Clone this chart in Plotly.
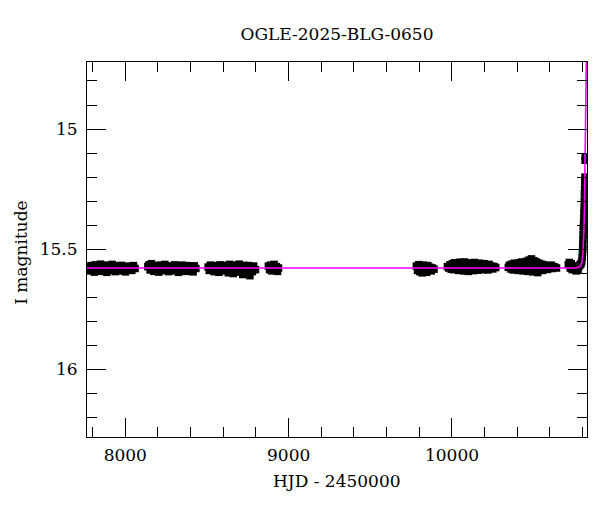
import plotly.graph_objects as go

# ---------------- data ----------------
title_text = "OGLE-2025-BLG-0650"
x_title = "HJD - 2450000"
y_title = "I magnitude"

s1_hjd = [7776, 7784, 7790, 7797, 7803, 7810, 7815, 7822, 7829, 7835, 7842, 7848, 7855, 7861,
          7868, 7874, 7881, 7887, 7894, 7900, 7907, 7913, 7920, 7926, 7933, 7940, 7946, 7953,
          7960, 7967, 7975, 7983, 7992, 8001, 8010, 8020, 8030, 8040, 8050, 8060]
s1_mag = [15.575, 15.59, 15.568, 15.585, 15.572, 15.595, 15.565, 15.58, 15.59, 15.57, 15.583,
          15.562, 15.592, 15.577, 15.568, 15.588, 15.574, 15.596, 15.566, 15.581, 15.571, 15.589,
          15.563, 15.584, 15.578, 15.593, 15.569, 15.582, 15.575, 15.59, 15.567, 15.586, 15.573,
          15.594, 15.57, 15.583, 15.576, 15.588, 15.568, 15.58]

s2_hjd = [8138, 8145, 8152, 8160, 8167, 8175, 8182, 8190, 8197, 8205, 8212, 8220, 8227, 8235,
          8242, 8250, 8257, 8265, 8272, 8280, 8287, 8295, 8302, 8310, 8317, 8325, 8332, 8340,
          8347, 8355, 8362, 8370, 8377, 8385, 8392, 8400, 8407, 8415, 8422, 8432]
s2_mag = [15.572, 15.565, 15.586, 15.56, 15.579, 15.592, 15.568, 15.583, 15.574, 15.595, 15.566,
          15.58, 15.57, 15.589, 15.563, 15.584, 15.576, 15.593, 15.569, 15.581, 15.573, 15.59,
          15.565, 15.585, 15.577, 15.596, 15.57, 15.582, 15.566, 15.588, 15.574, 15.592, 15.568,
          15.583, 15.571, 15.589, 15.575, 15.594, 15.569, 15.58]

s3_hjd = [8507, 8514, 8521, 8529, 8536, 8543, 8551, 8558, 8565, 8573, 8580, 8587, 8595, 8602,
          8609, 8617, 8624, 8631, 8639, 8646, 8653, 8661, 8668, 8675, 8683, 8690, 8697, 8705,
          8712, 8719, 8727, 8734, 8741, 8749, 8756, 8763, 8771, 8778, 8786, 8797]
s3_mag = [15.574, 15.588, 15.566, 15.582, 15.57, 15.593, 15.568, 15.585, 15.577, 15.596, 15.565,
          15.58, 15.572, 15.59, 15.567, 15.586, 15.575, 15.598, 15.563, 15.583, 15.57, 15.601,
          15.566, 15.588, 15.573, 15.595, 15.562, 15.584, 15.578, 15.605, 15.567, 15.59, 15.574,
          15.598, 15.568, 15.61, 15.575, 15.593, 15.57, 15.585]

s4_hjd = [8876, 8883, 8890, 8897, 8904, 8911, 8918, 8925, 8932, 8938]
s4_mag = [15.57, 15.585, 15.566, 15.59, 15.575, 15.563, 15.587, 15.572, 15.592, 15.578]

s5_hjd = [9782, 9789, 9796, 9803, 9810, 9817, 9824, 9831, 9838, 9845, 9852, 9859, 9866, 9873,
          9880, 9890]
s5_mag = [15.57, 15.588, 15.564, 15.593, 15.575, 15.598, 15.566, 15.585, 15.572, 15.596, 15.568,
          15.582, 15.575, 15.59, 15.578, 15.583]

s6_hjd = [9972, 9980, 9987, 9995, 10002, 10010, 10017, 10025, 10032, 10040, 10047, 10055, 10062,
          10070, 10077, 10085, 10092, 10100, 10107, 10115, 10122, 10130, 10137, 10145, 10152,
          10160, 10167, 10175, 10182, 10190, 10197, 10205, 10212, 10220, 10227, 10235, 10242,
          10250, 10257, 10268]
s6_mag = [15.572, 15.578, 15.565, 15.583, 15.56, 15.585, 15.556, 15.579, 15.567, 15.588, 15.554,
          15.575, 15.562, 15.59, 15.553, 15.58, 15.566, 15.592, 15.557, 15.576, 15.563, 15.589,
          15.555, 15.574, 15.561, 15.587, 15.558, 15.578, 15.566, 15.585, 15.56, 15.573, 15.568,
          15.586, 15.563, 15.577, 15.57, 15.582, 15.572, 15.576]

s7_hjd = [10345, 10352, 10360, 10367, 10375, 10382, 10390, 10397, 10405, 10412, 10420, 10427,
          10435, 10442, 10450, 10457, 10465, 10472, 10480, 10487, 10495, 10502, 10510, 10517,
          10525, 10532, 10540, 10547, 10555, 10562, 10570, 10577, 10585, 10592, 10600, 10607,
          10615, 10622, 10630, 10640]
s7_mag = [15.575, 15.566, 15.582, 15.562, 15.586, 15.558, 15.579, 15.563, 15.588, 15.556, 15.581,
          15.553, 15.59, 15.558, 15.584, 15.55, 15.592, 15.545, 15.578, 15.54, 15.594, 15.548,
          15.585, 15.553, 15.597, 15.558, 15.58, 15.562, 15.588, 15.565, 15.578, 15.568, 15.584,
          15.57, 15.576, 15.566, 15.58, 15.572, 15.575, 15.578]

s8_hjd = [10712, 10718, 10724, 10730, 10736, 10742, 10748, 10754, 10760, 10766, 10772, 10778,
          10784, 10790, 10794, 10797, 10799, 10800, 10801, 10802, 10803, 10804, 10805, 10806,
          10807, 10808, 10809, 10810, 10811, 10812, 10813, 10814, 10815, 10816]
s8_mag = [15.565, 15.555, 15.578, 15.56, 15.585, 15.57, 15.58, 15.575, 15.59, 15.572, 15.583,
          15.57, 15.565, 15.56, 15.55, 15.535, 15.515, 15.50, 15.48, 15.46, 15.44, 15.42, 15.405,
          15.39, 15.37, 15.35, 15.33, 15.30, 15.27, 15.25, 15.22, 15.20, 15.13, 15.115]

model_hjd = [7765, 10760, 10785, 10795, 10800, 10804, 10808, 10811, 10814, 10816, 10818, 10820,
             10822, 10824]
model_mag = [15.578, 15.578, 15.572, 15.555, 15.53, 15.49, 15.42, 15.33, 15.22, 15.12, 15.0,
             14.88, 14.76, 14.64]

x_range = [7765.5, 10826.6]
y_range = [16.281, 14.721]

# ---------------- figure ----------------
hjd = s1_hjd + s2_hjd + s3_hjd + s4_hjd + s5_hjd + s6_hjd + s7_hjd + s8_hjd
mag = s1_mag + s2_mag + s3_mag + s4_mag + s5_mag + s6_mag + s7_mag + s8_mag

FONT = "DejaVu Serif"

fig = go.Figure()
fig.add_trace(go.Scatter(x=hjd, y=mag, mode="markers",
                         marker=dict(symbol="square", size=7.5, color="black", line=dict(width=0)),
                         showlegend=False, cliponaxis=True))
fig.add_trace(go.Scatter(x=model_hjd, y=model_mag, mode="lines",
                         line=dict(color="#ff00ff", width=1.6),
                         showlegend=False, cliponaxis=True))

axis_common = dict(
    showgrid=False, zeroline=False, showline=True, linecolor="black", linewidth=1,
    mirror="allticks", ticks="inside", ticklen=19, tickwidth=1, tickcolor="black",
    tickfont=dict(family=FONT, size=17, color="black"),
)

fig.update_xaxes(range=x_range, dtick=1000, tick0=0, tickformat="d",
                 minor=dict(dtick=200, ticklen=10, ticks="inside", tickcolor="black", tickwidth=1),
                 ticklabelstandoff=3, **axis_common)
fig.update_yaxes(range=y_range, dtick=0.5, tick0=0,
                 minor=dict(dtick=0.1, ticklen=10, ticks="inside", tickcolor="black", tickwidth=1),
                 ticklabelstandoff=5, **axis_common)

fig.update_layout(
    width=600, height=512,
    margin=dict(l=87, r=13, t=62, b=75),
    plot_bgcolor="white", paper_bgcolor="white",
    font=dict(family=FONT, color="black"),
    title=dict(text=title_text, x=0.5, xref="paper", y=1 - 34 / 512, yref="container",
               xanchor="center", yanchor="middle", font=dict(family=FONT, size=17, color="black")),
    annotations=[
        dict(text=x_title, x=0.5, y=-0.118, xref="paper", yref="paper", showarrow=False,
             xanchor="center", yanchor="middle", font=dict(family=FONT, size=17, color="black")),
        dict(text=y_title, x=-0.131, y=0.49, xref="paper", yref="paper", showarrow=False,
             textangle=-90, xanchor="center", yanchor="middle",
             font=dict(family=FONT, size=17, color="black")),
    ],
)

fig.write_html("out.html", config={"displayModeBar": False},
               post_script="document.body.style.margin='0px';document.body.style.padding='0px';")
